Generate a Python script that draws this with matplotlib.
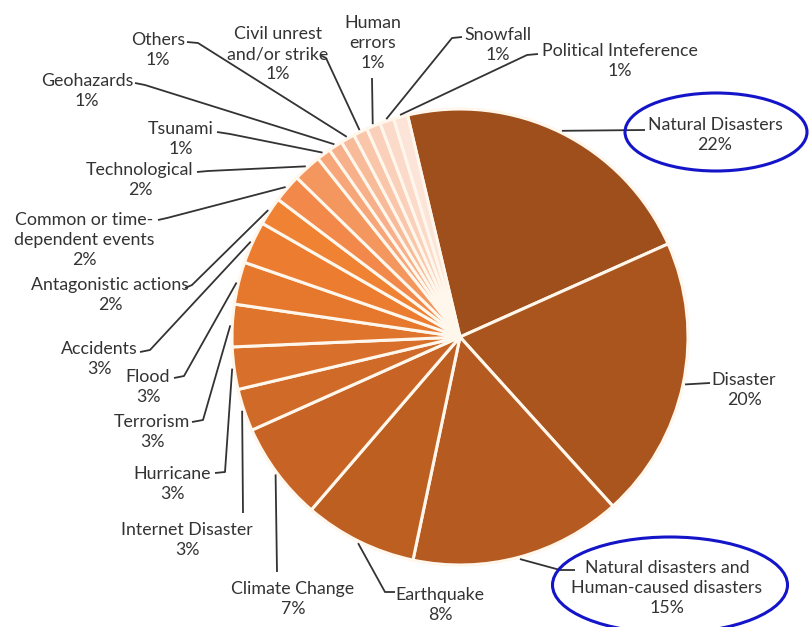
import numpy as np
import matplotlib
matplotlib.use("Agg")
import matplotlib.pyplot as plt
from matplotlib.patches import Ellipse

# --- данные ---
labels = ["Natural Disasters", "Disaster", "Natural disasters and\nHuman-caused disasters",
          "Earthquake", "Climate Change", "Internet Disaster", "Hurricane", "Terrorism",
          "Flood", "Accidents", "Antagonistic actions", "Common or time-\ndependent events",
          "Technological", "Tsunami", "Geohazards", "Others", "Civil unrest\nand/or strike",
          "Human\nerrors", "Snowfall", "Political Inteference"]
values = [22, 20, 15, 8, 7, 3, 3, 3, 3, 3, 2, 2, 2, 1, 1, 1, 1, 1, 1, 1]
colors = ["#9E4F1B", "#AA551E", "#B55A20", "#BE5F22", "#C76425", "#D06A28", "#D86F2A",
          "#DF742C", "#E6782E", "#EC7C30", "#F08233", "#F2894A", "#F4975F", "#F6A678",
          "#F7B08A", "#F8BB9A", "#FAC6AA", "#FAD0BA", "#FBDACA", "#FCE4D8"]

# --- раскладка подписей (пиксели картинки, y вниз) ---
# центр текстового блока, излом выноски, конец выноски
text_pos = [(715, 135), (744, 390), (667, 588), (440, 605), (293, 599), (187, 540),
            (172, 484), (152, 432), (148, 387), (99, 359), (110, 295), (84, 240),
            (140, 180), (181, 139), (87, 91), (158, 50), (278, 54), (373, 43),
            (498, 45), (620, 61)]
elbows = [(645, 130), (710, 383), (560, 570), (385, 592), (277, 572), (243, 513),
          (225, 472), (203, 420), (184, 376), (150, 350), (192, 285), (167, 218),
          (208, 171), (230, 134), (145, 85), (198, 43), (326, 58), (372, 78),
          (452, 38), (527, 55)]
ends = [(645, 130), (710, 383), (575, 570), (395, 592), (277, 572), (243, 513),
        (215, 473), (192, 422), (174, 378), (140, 352), (185, 288), (158, 220),
        (197, 172), (217, 132), (135, 83), (187, 42), (320, 55), (372, 78),
        (462, 37), (538, 54)]

W, H = 809, 627
cx, cy, R = 460, 337, 228
start = 103.3

plt.rcParams['font.family'] = ['Lato', 'DejaVu Sans']

fig = plt.figure(figsize=(W / 100, H / 100), dpi=100)
ax = fig.add_axes([0, 0, 1, 1])

wedges, _ = ax.pie(values, colors=colors, startangle=start, counterclock=False,
                   center=(cx, H - cy), radius=R,
                   wedgeprops=dict(edgecolor="#FFF6EC", linewidth=2.2))

ax.set_xlim(0, W)
ax.set_ylim(0, H)
ax.set_aspect("equal")
ax.axis("off")

for w, lab, v, tp, el, en in zip(wedges, labels, values, text_pos, elbows, ends):
    ang = np.deg2rad((w.theta1 + w.theta2) / 2)
    sx = cx + (R + 2) * np.cos(ang)
    sy = H - cy + (R + 2) * np.sin(ang)
    ax.plot([sx, el[0], en[0]], [sy, H - el[1], H - en[1]], color="#333333", lw=1.3,
            solid_capstyle="butt", zorder=1)
    ax.text(tp[0], H - tp[1], f"{lab}\n{v}%", ha="center", va="center",
            multialignment="center", fontsize=12.8, color="#333333", linespacing=1.32)

# синие овалы
ax.add_patch(Ellipse((716, H - 132), 182, 78, fill=False, edgecolor="#1414C8", lw=2.2))
ax.add_patch(Ellipse((670, H - 585), 235, 96, fill=False, edgecolor="#1414C8", lw=2.2))

plt.savefig("out.png", dpi=100)
